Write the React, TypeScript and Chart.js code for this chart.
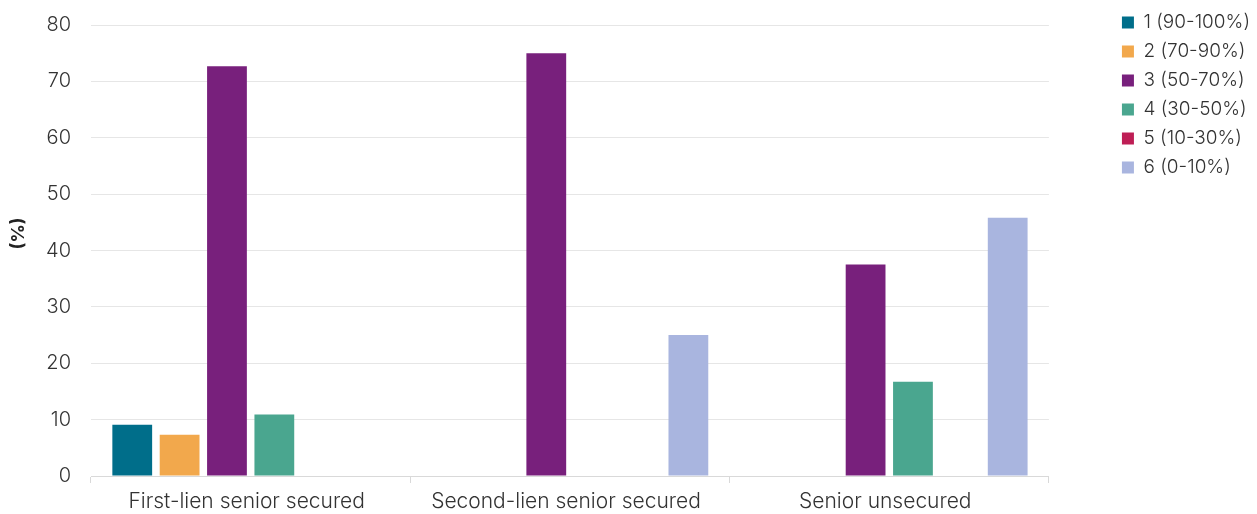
import React, { useEffect, useRef } from "react";
import { Chart, registerables } from "chart.js";

Chart.register(...registerables);

const categories = ["First-lien senior secured", "Second-lien senior secured", "Senior unsecured"];
const seriesLabels = ["1 (90-100%)", "2 (70-90%)", "3 (50-70%)", "4 (30-50%)", "5 (10-30%)", "6 (0-10%)"];
const series1 = [9.1, 0, 0];
const series2 = [7.3, 0, 0];
const series3 = [72.7, 75.0, 37.5];
const series4 = [10.9, 0, 16.7];
const series5 = [0, 0, 0];
const series6 = [0, 25.0, 45.8];
const seriesColors = ["#006E8A", "#F2A84C", "#78207C", "#4AA68F", "#BE1E55", "#A9B5DF"];
const yTicks = [0, 10, 20, 30, 40, 50, 60, 70, 80];
const yTitle = "(%)";

const FONT = "Inter, 'Noto Sans', sans-serif";

export default function App() {
  const ref = useRef<HTMLCanvasElement | null>(null);
  useEffect(() => {
    if (!ref.current) return;
    const values = [series1, series2, series3, series4, series5, series6];
    const chart = new Chart(ref.current, {
      type: "bar",
      data: {
        labels: categories,
        datasets: values.map((v, i) => ({
          label: seriesLabels[i],
          data: v,
          backgroundColor: seriesColors[i],
          borderWidth: 0,
          categoryPercentage: 0.89,
          barPercentage: 0.84,
        })),
      },
      options: {
        animation: false,
        responsive: true,
        maintainAspectRatio: false,
        layout: { padding: { top: 3, bottom: 0, left: 0, right: -3 } },
        plugins: {
          tooltip: { enabled: false },
          legend: {
            position: "right",
            align: "start",
            labels: {
              boxWidth: 12,
              boxHeight: 12,
              padding: 10,
              color: "#333333",
              font: { family: FONT, size: 19, weight: "300" },
            },
          },
        },
        scales: {
          x: {
            afterFit: (s: any) => {
              s.height = 38;
            },
            grid: {
              display: true,
              drawOnChartArea: false,
              offset: true,
              tickLength: 7,
              color: "#d9d9d9",
            },
            border: { display: true, color: "#d9d9d9" },
            ticks: {
              color: "#333333",
              padding: 6,
              labelOffset: -4,
              font: { family: FONT, size: 21, weight: "300" },
            },
          },
          y: {
            min: 0,
            max: 80,
            afterBuildTicks: (s: any) => {
              s.ticks = yTicks.map((v) => ({ value: v }));
            },
            afterFit: (s: any) => {
              s.width = 91;
              s.paddingTop = 25;
              s.paddingBottom = 0;
            },
            grid: { color: "#e6e6e6", drawTicks: false },
            border: { display: false },
            ticks: {
              color: "#333333",
              padding: 20,
              font: { family: FONT, size: 20, weight: "300" },
            },
            title: {
              display: true,
              text: "        " + yTitle,
              color: "#222222",
              padding: { top: 8, bottom: 10 },
              font: { family: FONT, size: 18, weight: "bold" },
            },
          },
          y2: {
            type: "linear",
            position: "right",
            display: true,
            grid: { display: false },
            border: { display: false },
            ticks: { display: false },
            afterFit: (s: any) => {
              s.width = 63;
            },
          },
        },
      } as any,
    });
    return () => chart.destroy();
  }, []);
  return (
    <div style={{ position: "absolute", left: 0, top: 0, width: 1257, height: 514 }}>
      <canvas ref={ref} />
    </div>
  );
}
